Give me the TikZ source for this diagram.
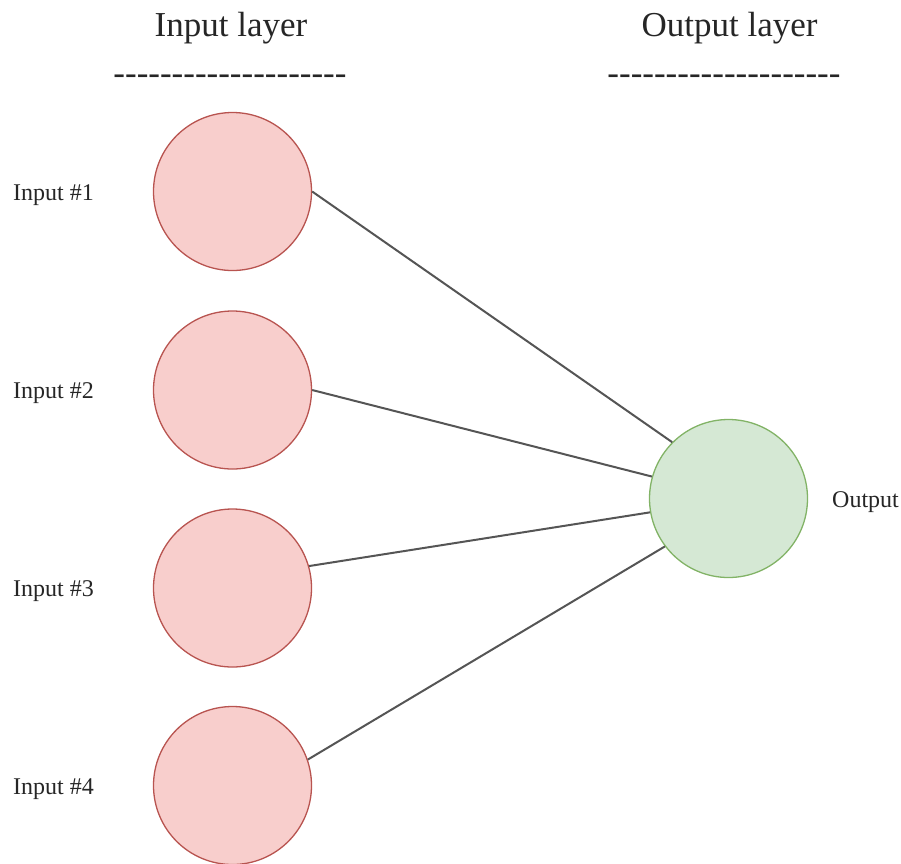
\documentclass[tikz,border=0pt]{standalone}
\usepackage{fontspec}
\setmainfont{Liberation Serif}
\definecolor{redfill}{HTML}{F8CECC}
\definecolor{redline}{HTML}{B85450}
\definecolor{greenfill}{HTML}{D5E8D4}
\definecolor{greenline}{HTML}{82B366}
\definecolor{edgegray}{HTML}{555555}
\newcommand{\dashrow}{-{}-{}-{}-{}-{}-{}-{}-{}-{}-{}-{}-{}-{}-{}-{}-{}-{}-{}-{}-{}}
\begin{document}
\begin{tikzpicture}[x=1pt,y=-1pt,
  neuronin/.style={circle,draw=redline,fill=redfill,line width=1.3pt,minimum size=158pt,inner sep=0pt},
  neuronout/.style={circle,draw=greenline,fill=greenfill,line width=1.3pt,minimum size=158pt,inner sep=0pt},
  heading/.style={font=\fontsize{35}{40}\selectfont,anchor=base,inner sep=0pt,text=black!85},
  label/.style={font=\fontsize{24}{28}\selectfont,anchor=base west,inner sep=0pt,text=black!85},
  edge/.style={draw=edgegray,line width=2pt}]
\useasboundingbox (0,0) rectangle (901,863);
\node[heading] (hin) at (231,36) {Input layer};
\node[heading] (hout) at (729.5,36) {Output layer};
\node[heading] (din) at (230,84) {\dashrow};
\node[heading] (dout) at (724,84) {\dashrow};
\node[neuronin] (i1) at (232.5,191.5) {};
\node[neuronin] (i2) at (232.5,390) {};
\node[neuronin] (i3) at (232.5,588) {};
\node[neuronin] (i4) at (232.5,785.5) {};
\node[neuronout] (o) at (728.5,498.5) {};
\node[label] (l1) at (13,200) {Input \#1};
\node[label] (l2) at (13,398.5) {Input \#2};
\node[label] (l3) at (13,596.5) {Input \#3};
\node[label] (l4) at (13,794) {Input \#4};
\node[label] (lo) at (832,507) {Output};
\draw[edge] (i1.east) -- (o.135);
\draw[edge] (i2.east) -- (o.164);
\draw[edge] (i3.16) -- (o.190);
\draw[edge] (i4.19) -- (o.217);
\end{tikzpicture}
\end{document}
